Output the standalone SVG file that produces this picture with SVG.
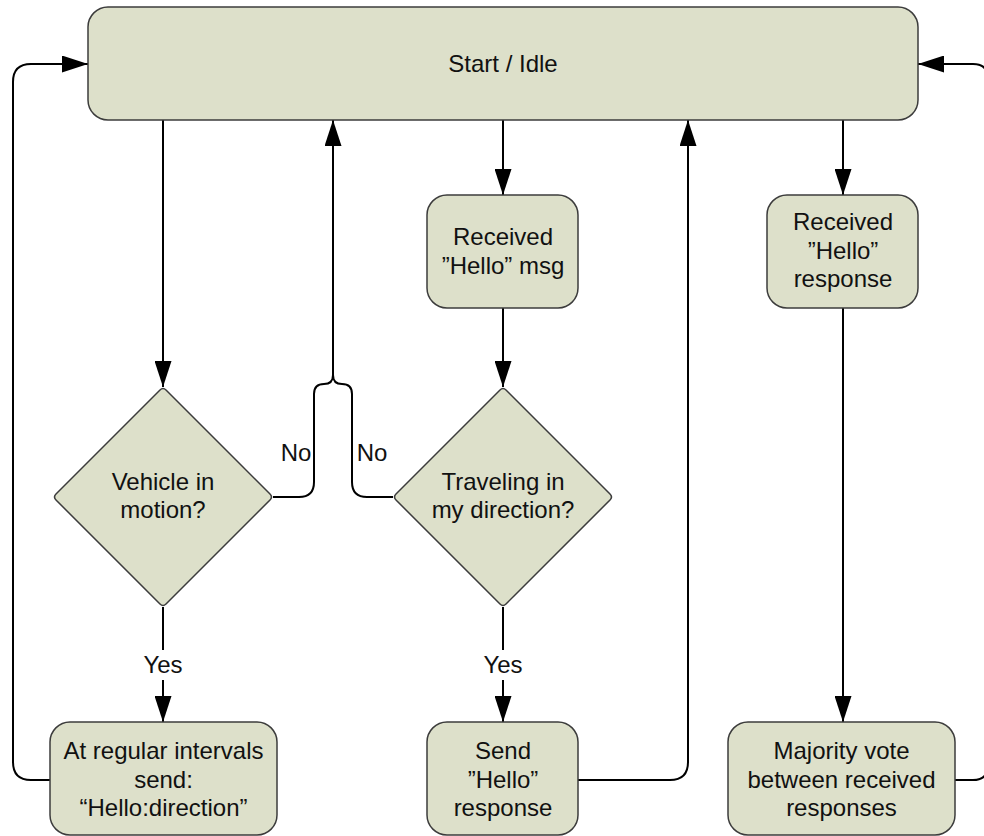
<svg xmlns="http://www.w3.org/2000/svg" width="984" height="836" viewBox="0 0 984 836">
  <style>
    .box { fill: #dde0ca; stroke: #3c3c3c; stroke-width: 1.5; }
    .lbl { font-family: "Liberation Sans", Arial, sans-serif; font-size: 24px; fill: #111; text-anchor: middle; }
    .wire { fill: none; stroke: #000; stroke-width: 2; }
    .arr { marker-end: url(#head); }
  </style>
  <defs>
    <marker id="head" markerUnits="userSpaceOnUse" markerWidth="26" markerHeight="17" refX="26" refY="8.5" orient="auto">
      <path d="M0,0 L26,8.5 L0,17 z" fill="#000"/>
    </marker>
  </defs>
  <rect width="984" height="836" fill="#fff"/>

  <!-- connectors -->
  <g id="connectors">
    <!-- from Start / Idle downward -->
    <path class="wire arr" d="M163,120 V387"/>
    <path class="wire arr" d="M503,120 V195"/>
    <path class="wire arr" d="M843,120 V195"/>
    <path class="wire arr" d="M503,308 V387"/>
    <path class="wire arr" d="M843,308 V722"/>
    <!-- Yes branches -->
    <path class="wire" d="M163,607 V650"/>
    <path class="wire arr" d="M163,680 V722"/>
    <path class="wire" d="M503,607 V650"/>
    <path class="wire arr" d="M503,680 V722"/>
    <!-- No branches merging back to idle -->
    <path class="wire" d="M273,497 H299 Q314,497 314,482 V394 Q314,384 324,384 Q333,384 333,375"/>
    <path class="wire" d="M393,497 H367 Q352,497 352,482 V394 Q352,384 342,384 Q333,384 333,375"/>
    <path class="wire arr" d="M333,376 V120"/>
    <!-- returns to idle -->
    <path class="wire arr" d="M50,780 H31 Q13,780 13,762 V82 Q13,64 31,64 H88"/>
    <path class="wire arr" d="M578,780 H670 Q688,780 688,762 V120"/>
    <path class="wire arr" d="M955,780 H973 Q988,780 988,765 V79 Q988,64 973,64 H918"/>
  </g>

  <!-- edge labels -->
  <g id="edge-labels">
    <text class="lbl" x="163" y="673">Yes</text>
    <text class="lbl" x="503" y="673">Yes</text>
    <text class="lbl" x="296" y="461">No</text>
    <text class="lbl" x="372" y="461">No</text>
  </g>

  <g id="start-idle">
    <rect class="box" x="88" y="7" width="830" height="113" rx="20"/>
    <text class="lbl" x="503" y="71.5">Start / Idle</text>
  </g>

  <g id="received-hello-msg">
    <rect class="box" x="427" y="195" width="151" height="113" rx="20"/>
    <text class="lbl" x="503" y="245">Received</text>
    <text class="lbl" x="503" y="274">”Hello” msg</text>
  </g>

  <g id="received-hello-response">
    <rect class="box" x="767" y="195" width="151" height="113" rx="20"/>
    <text class="lbl" x="843" y="230">Received</text>
    <text class="lbl" x="843" y="258.5">”Hello”</text>
    <text class="lbl" x="843" y="287">response</text>
  </g>

  <g id="vehicle-in-motion">
    <path class="box" d="M160,390 Q163,387 166,390 L270,494 Q273,497 270,500 L166,604 Q163,607 160,604 L56,500 Q53,497 56,494 Z"/>
    <text class="lbl" x="163" y="490">Vehicle in</text>
    <text class="lbl" x="163" y="518">motion?</text>
  </g>

  <g id="traveling-my-direction">
    <path class="box" d="M500,390 Q503,387 506,390 L610,494 Q613,497 610,500 L506,604 Q503,607 500,604 L396,500 Q393,497 396,494 Z"/>
    <text class="lbl" x="503" y="490">Traveling in</text>
    <text class="lbl" x="503" y="518">my direction?</text>
  </g>

  <g id="send-hello-direction">
    <rect class="box" x="50" y="722" width="227" height="113" rx="20"/>
    <text class="lbl" x="163.5" y="759">At regular intervals</text>
    <text class="lbl" x="163.5" y="787.5">send:</text>
    <text class="lbl" x="163.5" y="816">“Hello:direction”</text>
  </g>

  <g id="send-hello-response">
    <rect class="box" x="427" y="722" width="151" height="113" rx="20"/>
    <text class="lbl" x="503" y="759">Send</text>
    <text class="lbl" x="503" y="787.5">”Hello”</text>
    <text class="lbl" x="503" y="816">response</text>
  </g>

  <g id="majority-vote">
    <rect class="box" x="728" y="722" width="227" height="113" rx="20"/>
    <text class="lbl" x="841.5" y="759">Majority vote</text>
    <text class="lbl" x="841.5" y="787.5">between received</text>
    <text class="lbl" x="841.5" y="816">responses</text>
  </g>
</svg>
